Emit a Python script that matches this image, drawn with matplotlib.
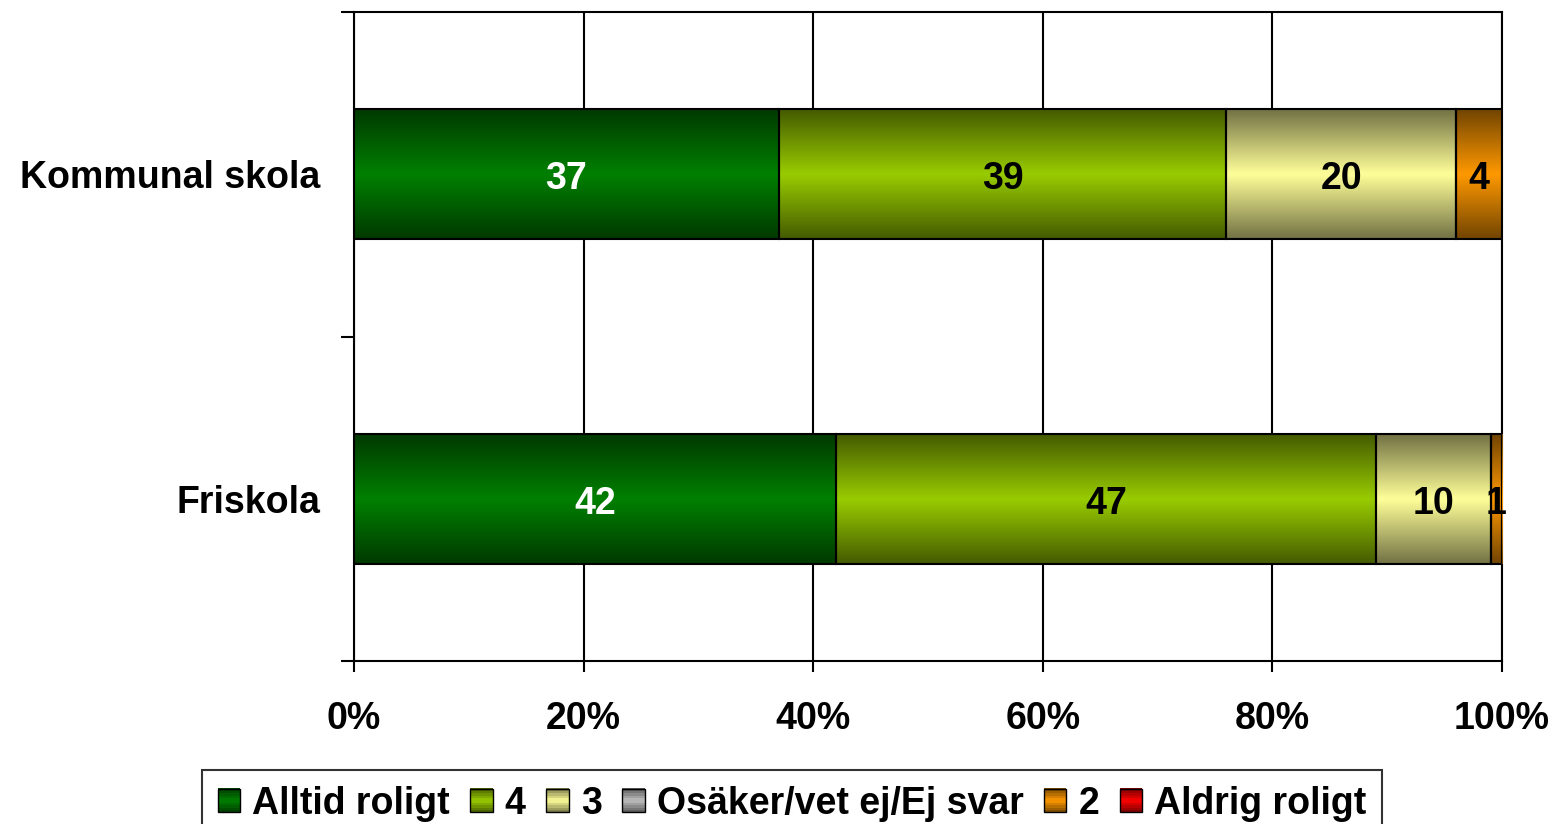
import numpy as np
import matplotlib
matplotlib.use("Agg")
import matplotlib.pyplot as plt
from matplotlib.patches import Rectangle
from matplotlib.legend_handler import HandlerBase
from matplotlib.colors import to_rgb

plt.rcParams['font.family'] = ['Liberation Sans', 'DejaVu Sans']
plt.rcParams['font.weight'] = 'bold'

categories = ["Friskola", "Kommunal skola"]
series_names = ["Alltid roligt", "4", "3", "Osäker/vet ej/Ej svar", "2", "Aldrig roligt"]
# values per series, order matches categories (Friskola, Kommunal skola)
alltid = [42, 37]
fyra = [47, 39]
tre = [10, 20]
osaker = [0, 0]
tva = [1, 4]
aldrig = [0, 0]
series_values = [alltid, fyra, tre, osaker, tva, aldrig]
colors = ["#008000", "#99CC00", "#FFFF99", "#C0C0C0", "#FF9900", "#FF0000"]
label_colors = ["white", "black", "black", "black", "black", "black"]
xticks = [0, 20, 40, 60, 80, 100]
xtick_labels = ["0%", "20%", "40%", "60%", "80%", "100%"]

EDGE = 0.45
FS = 27


def gradient_rgb(color, n=64):
    c = np.array(to_rgb(color))
    t = np.linspace(0, 1, n)
    f = 1 - np.abs(2 * t - 1)
    k = EDGE + (1 - EDGE) * f
    return (k[:, None] * c[None, :])[:, None, :]


class GradHandler(HandlerBase):
    # small legend square with the same dark-light-dark gradient
    def create_artists(self, legend, orig_handle, xdescent, ydescent,
                       width, height, fontsize, trans):
        c = np.array(to_rgb(orig_handle.get_facecolor()))
        n = 10
        arts = []
        for i in range(n):
            t = (i + 0.5) / n
            k = EDGE + (1 - EDGE) * (1 - abs(2 * t - 1))
            arts.append(Rectangle((-xdescent, -ydescent + i * height / n), width,
                                  height / n + 0.3, facecolor=k * c,
                                  edgecolor='none', transform=trans))
        arts.append(Rectangle((-xdescent, -ydescent), width, height,
                              facecolor='none', edgecolor='black', lw=1,
                              transform=trans))
        return arts


fig = plt.figure(figsize=(15.56, 8.24), dpi=100)
ax = fig.add_axes([354 / 1556, 1 - 661 / 824, 1148 / 1556, 649 / 824])

ypos = np.arange(len(categories)) + 0.5
left = np.zeros(len(categories))
handles = []
for name, vals, col, lc in zip(series_names, series_values, colors, label_colors):
    bars = ax.barh(ypos, vals, left=left, height=0.4, facecolor='none',
                   edgecolor='black', linewidth=1.5, zorder=4, label=name)
    for b, v in zip(bars, vals):
        if v <= 0:
            continue
        x0, y0 = b.get_x(), b.get_y()
        w, h = b.get_width(), b.get_height()
        ax.imshow(gradient_rgb(col), extent=(x0, x0 + w, y0, y0 + h),
                  aspect='auto', interpolation='bilinear', zorder=3,
                  origin='lower')
        ax.annotate(f"{v}", (x0 + w / 2, y0 + h / 2), xytext=(0, -3.5),
                    textcoords='offset points', ha='center', va='center',
                    color=lc, fontsize=FS, fontweight='bold', zorder=5)
    handles.append(Rectangle((0, 0), 1, 1, facecolor=col))
    left = left + np.array(vals)

ax.set_xlim(0, 100)
ax.set_ylim(0, len(categories))
ax.set_xticks(xticks)
ax.set_xticklabels(xtick_labels, fontsize=FS, fontweight='bold')
ax.set_yticks([0, 1, 2])
ax.set_yticklabels([])
ax.set_yticks(ypos, minor=True)
ax.set_yticklabels(categories, minor=True, fontsize=FS, fontweight='bold')
ax.tick_params(axis='y', which='minor', length=0, pad=24)
ax.tick_params(axis='y', which='major', length=9.5, width=1.5, direction='out')
ax.tick_params(axis='x', length=8, width=1.5, direction='out', pad=21)
ax.grid(axis='x', color='black', linewidth=1.5, zorder=1)
ax.set_axisbelow(True)
for s in ax.spines.values():
    s.set_linewidth(1.5)
    s.set_color('black')

leg = fig.legend(handles, series_names, handler_map={Rectangle: GradHandler()},
                 loc='upper center', bbox_to_anchor=(792 / 1556, 1 - 770 / 824),
                 ncol=6, fontsize=FS, frameon=True, fancybox=False,
                 edgecolor='black', handlelength=0.6, handleheight=0.6,
                 handletextpad=0.32, columnspacing=0.545, borderpad=0.42,
                 borderaxespad=0)
leg.get_frame().set_linewidth(1.5)
for t in leg.get_texts():
    t.set_fontweight('bold')

fig.savefig("out.png", dpi=100)
